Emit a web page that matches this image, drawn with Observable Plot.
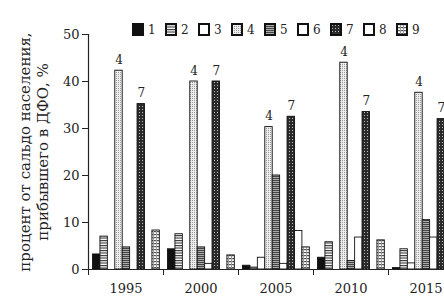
<!DOCTYPE html>
<html><head><meta charset="utf-8">
<script src="https://cdn.jsdelivr.net/npm/d3@7"></script>
<script src="https://cdn.jsdelivr.net/npm/@observablehq/plot@0.6"></script>
<style>
html,body{margin:0;padding:0;background:#fff;overflow:hidden;width:444px;height:299px}
#wrap{position:relative;width:444px;height:299px;overflow:hidden}
#chart{position:absolute;left:0;top:0;width:463px}
#chart svg{max-width:none !important;width:463px !important;height:299px !important}
#legend{position:absolute;left:133px;top:13px;z-index:2}
.lg-swatch{margin-right:0 !important;width:33px;}
.lg-swatch > svg{margin-right:5px !important;}
.lg-swatch > svg rect{stroke:#111;stroke-width:2px;}
</style></head>
<body><div id="wrap"><div id="chart"></div><div id="legend"></div></div>
<script>
// ---- data ----
const years = ["1995", "2000", "2005", "2010", "2015"];
const seriesNames = ["1", "2", "3", "4", "5", "6", "7", "8", "9"];
const v1 = [3.2, 4.3, 0.8, 2.5, 0.3];
const v2 = [7.0, 7.5, 0.4, 5.8, 4.3];
const v3 = [0, 0, 2.5, 0, 1.3];
const v4 = [42.3, 40.0, 30.3, 44.0, 37.6];
const v5 = [4.7, 4.7, 20.0, 1.8, 10.5];
const v6 = [0, 1.2, 1.2, 6.8, 6.8];
const v7 = [35.2, 40.0, 32.5, 33.5, 32.0];
const v8 = [0, 0, 8.2, 0, null];
const v9 = [8.3, 3.0, 4.7, 6.2, null];
const labelledSeries = ["4", "7"];
const yTicks = [0, 10, 20, 30, 40, 50];
const yTitle = "процент от сальдо населения,\nприбывшего в ДФО, %";

const seriesValues = [v1, v2, v3, v4, v5, v6, v7, v8, v9];
const patternIds = seriesNames.map((s) => `url(#pat${s})`);

// layout of bars within each year group (in group units)
const barW = 0.099, groupPad = 0.06;
const rows = [];
seriesValues.forEach((vals, si) => {
  vals.forEach((v, yi) => {
    if (v == null || v <= 0) return;
    const x1 = yi + groupPad + si * barW;
    rows.push({year: years[yi], series: seriesNames[si], value: v, x1, x2: x1 + barW, xm: x1 + barW / 2});
  });
});
const boundaries = years.map((_, i) => i).concat([years.length]);
const centers = years.map((_, i) => i + 0.5);

const font = "DejaVu Serif";
const chart = Plot.plot({
  width: 463, height: 299,
  marginLeft: 88, marginRight: 0, marginTop: 34, marginBottom: 30,
  style: {fontFamily: font, fontSize: "13px", background: "white", color: "#222", overflow: "visible"},
  x: {domain: [0, years.length]},
  y: {domain: [0, 50]},
  color: {domain: seriesNames, range: patternIds},
  marks: [
    Plot.rectY(rows, {x1: "x1", x2: "x2", y: "value", fill: "series", stroke: "#111", strokeWidth: 0.9}),
    Plot.text(rows.filter((d) => labelledSeries.includes(d.series)), {x: "xm", y: "value", text: "series", dy: -7, lineAnchor: "bottom", fontSize: 12}),
    Plot.ruleY([0], {stroke: "#222", strokeWidth: 1.2}),
    Plot.ruleX([0], {stroke: "#222", strokeWidth: 1.2}),
    Plot.axisY({ticks: yTicks, tickSize: 6, tickPadding: 3, label: null, fontSize: 13}),
    Plot.axisX({ticks: boundaries, tickSize: 6, tickFormat: () => "", label: null}),
    Plot.axisX({ticks: centers, tickSize: 0, tickPadding: 14, tickFormat: (d) => years[Math.floor(d)], label: null, fontSize: 13}),
    Plot.text([yTitle], {frameAnchor: "left", rotate: -90, dx: -71, lineAnchor: "top", textAnchor: "middle", fontSize: 15, lineHeight: 1.2})
  ]
});

// fill patterns
const defs = d3.select(chart).insert("defs", ":first-child");
function pat(id, w, h, draw) {
  const p = defs.append("pattern").attr("id", id).attr("patternUnits", "userSpaceOnUse").attr("width", w).attr("height", h);
  draw(p);
}
pat("pat1", 4, 4, (p) => p.append("rect").attr("width", 4).attr("height", 4).attr("fill", "#111"));
pat("pat2", 4, 2.5, (p) => {
  p.append("rect").attr("width", 4).attr("height", 2.5).attr("fill", "#fff");
  p.append("rect").attr("width", 4).attr("height", 1.1).attr("fill", "#333");
});
pat("pat3", 4, 4, (p) => p.append("rect").attr("width", 4).attr("height", 4).attr("fill", "#fff"));
pat("pat4", 2, 2, (p) => {
  p.append("rect").attr("width", 2).attr("height", 2).attr("fill", "#eee");
  p.append("rect").attr("width", 1).attr("height", 1).attr("fill", "#999");
});
pat("pat5", 4, 2, (p) => {
  p.append("rect").attr("width", 4).attr("height", 2).attr("fill", "#aaa");
  p.append("rect").attr("width", 4).attr("height", 1).attr("fill", "#444");
});
pat("pat6", 4, 4, (p) => p.append("rect").attr("width", 4).attr("height", 4).attr("fill", "#fff"));
pat("pat7", 3, 3, (p) => {
  p.append("rect").attr("width", 3).attr("height", 3).attr("fill", "#2a2a2a");
  p.append("rect").attr("x", 1).attr("y", 1).attr("width", 1).attr("height", 1).attr("fill", "#bbb");
});
pat("pat8", 4, 4, (p) => p.append("rect").attr("width", 4).attr("height", 4).attr("fill", "#fff"));
pat("pat9", 3, 3, (p) => {
  p.append("rect").attr("width", 3).attr("height", 3).attr("fill", "#fff");
  p.append("rect").attr("width", 3).attr("height", 1.2).attr("fill", "#555");
  p.append("rect").attr("width", 1).attr("height", 3).attr("fill", "#999");
});

document.getElementById("chart").append(chart);

const legend = Plot.legend({
  color: {domain: seriesNames, range: patternIds},
  swatchWidth: 10, swatchHeight: 11,
  className: "lg",
  style: {fontFamily: font, fontSize: "12px", color: "#222"}
});
document.getElementById("legend").append(legend);
</script>
</body></html>
